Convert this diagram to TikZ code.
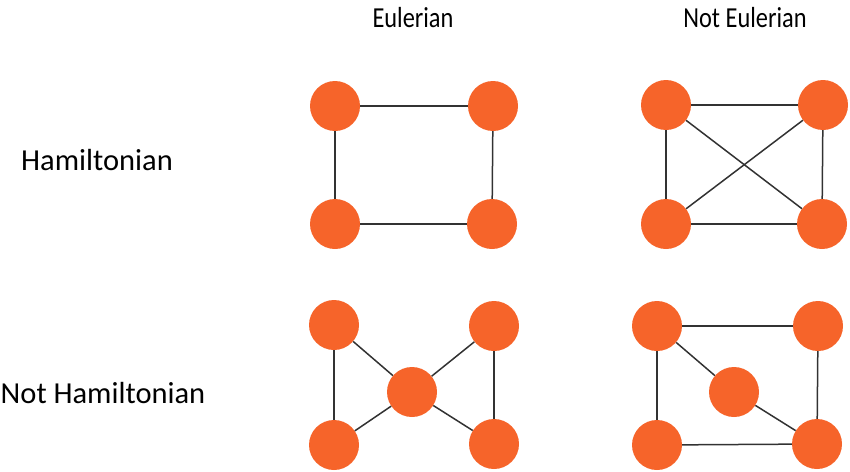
\documentclass[tikz,border=0pt]{standalone}
\usepackage{fontspec}
\setmainfont{Carlito}
\usepackage{graphicx}
\definecolor{vorange}{RGB}{246,100,42}
\definecolor{edgegray}{RGB}{50,50,50}
\tikzset{
  vtx/.style={circle, fill=vorange, draw=none, minimum size=50pt, inner sep=0pt},
  edg/.style={draw=edgegray, line width=1.5pt},
  collabel/.style={font=\fontsize{29}{31}\selectfont, anchor=center, inner sep=0pt},
  rowlabel/.style={font=\fontsize{30.5}{32}\selectfont, anchor=center, inner sep=0pt}
}
\begin{document}
\begin{tikzpicture}[x=1pt,y=-1pt]
\useasboundingbox (0,0) rectangle (850,471);
% labels
\node[collabel] (le) at (413,18) {\scalebox{0.84}[1]{Eulerian}};
\node[collabel] (lne) at (745,18) {\scalebox{0.84}[1]{Not Eulerian}};
\node[rowlabel] (lh) at (97,160) {Hamiltonian};
\node[rowlabel] (lnh) at (103,393) {Not Hamiltonian};
% top-left graph
\node[vtx] (a1) at (335,106) {};
\node[vtx] (a2) at (493,106) {};
\node[vtx] (a3) at (335,224) {};
\node[vtx] (a4) at (492,224) {};
% top-right graph
\node[vtx] (b1) at (666,105) {};
\node[vtx] (b2) at (823,105) {};
\node[vtx] (b3) at (666,224) {};
\node[vtx] (b4) at (822,224) {};
% bottom-left graph
\node[vtx] (c1) at (334,325) {};
\node[vtx] (c2) at (494,326) {};
\node[vtx] (c5) at (412,392) {};
\node[vtx] (c3) at (334,445) {};
\node[vtx] (c4) at (494,444) {};
% bottom-right graph
\node[vtx] (d1) at (657,326) {};
\node[vtx] (d2) at (818,326) {};
\node[vtx] (d5) at (734,392) {};
\node[vtx] (d3) at (657,445) {};
\node[vtx] (d4) at (817,444) {};
% edges
\draw[edg] (a1) -- (a2);
\draw[edg] (a2) -- (a4);
\draw[edg] (a4) -- (a3);
\draw[edg] (a3) -- (a1);
\draw[edg] (b1) -- (b2);
\draw[edg] (b2) -- (b4);
\draw[edg] (b4) -- (b3);
\draw[edg] (b3) -- (b1);
\draw[edg] (b1) -- (b4);
\draw[edg] (b2) -- (b3);
\draw[edg] (c1) -- (c3);
\draw[edg] (c2) -- (c4);
\draw[edg] (c1) -- (c5);
\draw[edg] (c2) -- (c5);
\draw[edg] (c3) -- (c5);
\draw[edg] (c4) -- (c5);
\draw[edg] (d1) -- (d2);
\draw[edg] (d2) -- (d4);
\draw[edg] (d4) -- (d3);
\draw[edg] (d3) -- (d1);
\draw[edg] (d1) -- (d5);
\draw[edg] (d5) -- (d4);
\end{tikzpicture}
\end{document}
